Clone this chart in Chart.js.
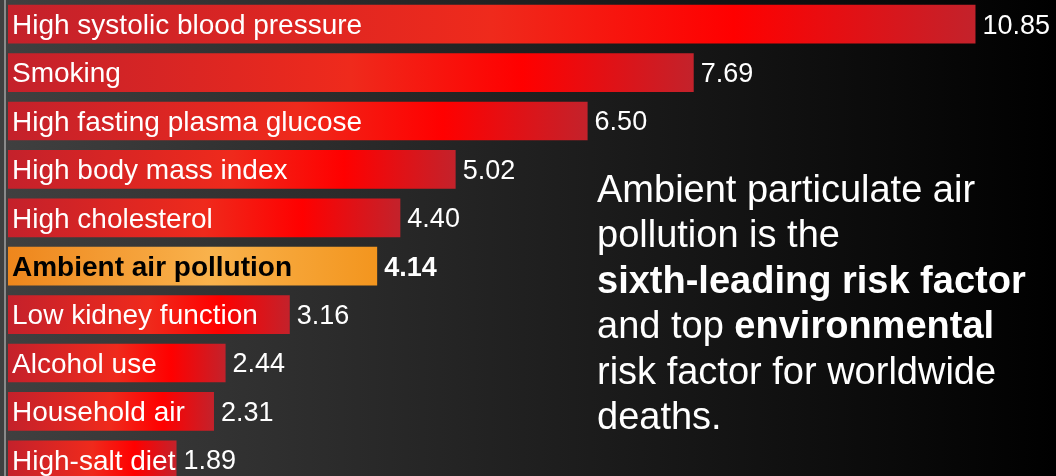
<!DOCTYPE html>
<html>
<head>
<meta charset="utf-8">
<script src="https://cdn.jsdelivr.net/npm/chart.js@4.4.1/dist/chart.umd.min.js"></script>
<style>
  html, body { margin: 0; padding: 0; background: #000; overflow: hidden; }
  #wrap { width: 1056px; height: 476px; overflow: hidden; }
  canvas { display: block; }
</style>
</head>
<body>
<div id="wrap"><canvas id="grafico" width="1056" height="484"></canvas></div>
<script>
const riskFactors = [
  'High systolic blood pressure',
  'Smoking',
  'High fasting plasma glucose',
  'High body mass index',
  'High cholesterol',
  'Ambient air pollution',
  'Low kidney function',
  'Alcohol use',
  'Household air',
  'High-salt diet'
];
const deaths = [10.85, 7.69, 6.50, 5.02, 4.40, 4.14, 3.16, 2.44, 2.31, 1.89];
const highlighted = 'Ambient air pollution';

const noteLines = [
  [['Ambient particulate air', false]],
  [['pollution is the', false]],
  [['sixth-leading risk factor', true]],
  [['and top ', false], ['environmental', true]],
  [['risk factor for worldwide', false]],
  [['deaths.', false]]
];

const fonte = '"Liberation Sans", Arial, sans-serif';

function barGradient(context) {
  const chart = context.chart;
  const i = context.dataIndex;
  const isHighlight = riskFactors[i] === highlighted;
  if (!chart.chartArea || !chart.scales.x) return isHighlight ? '#f39a2a' : '#e8201e';
  const x0 = chart.scales.x.getPixelForValue(0);
  const x1 = chart.scales.x.getPixelForValue(deaths[i]);
  const g = chart.ctx.createLinearGradient(x0, 0, x1, 0);
  if (isHighlight) {
    g.addColorStop(0, '#ee861c');
    g.addColorStop(0.55, '#f9b24c');
    g.addColorStop(1, '#f3951e');
  } else {
    g.addColorStop(0, '#c4212b');
    g.addColorStop(0.5, '#ef2a1c');
    g.addColorStop(0.75, '#ff0000');
    g.addColorStop(1, '#c3222b');
  }
  return g;
}

const fundo = {
  id: 'fundo',
  beforeDraw(chart) {
    const { ctx, width, height } = chart;
    const g = ctx.createLinearGradient(0, 0, width, 0);
    g.addColorStop(0, '#404040');
    g.addColorStop(0.4, '#262626');
    g.addColorStop(0.75, '#101010');
    g.addColorStop(1, '#000000');
    ctx.save();
    ctx.fillStyle = g;
    ctx.fillRect(0, 0, width, height);
    ctx.fillStyle = '#8a8a8a';
    ctx.fillRect(4, 0, 2, height);
    ctx.restore();
  }
};

const rotulos = {
  id: 'rotulos',
  afterDatasetsDraw(chart) {
    const { ctx } = chart;
    const meta = chart.getDatasetMeta(0);
    ctx.save();
    ctx.textBaseline = 'middle';
    meta.data.forEach((bar, i) => {
      const isHighlight = riskFactors[i] === highlighted;
      ctx.font = (isHighlight ? 'bold ' : '') + '28px ' + fonte;
      ctx.fillStyle = isHighlight ? '#000' : '#fff';
      ctx.textAlign = 'left';
      ctx.fillText(riskFactors[i], 12, bar.y + 2);
      ctx.font = (isHighlight ? 'bold ' : '') + '27px ' + fonte;
      ctx.fillStyle = '#fff';
      ctx.fillText(deaths[i].toFixed(2), bar.x + 7, bar.y + 2);
    });

    ctx.textBaseline = 'alphabetic';
    let y = 202;
    noteLines.forEach(parts => {
      let x = 597;
      parts.forEach(([texto, negrito]) => {
        ctx.font = (negrito ? 'bold ' : '') + '38px ' + fonte;
        ctx.fillText(texto, x, y);
        x += ctx.measureText(texto).width;
      });
      y += 45.4;
    });
    ctx.restore();
  }
};

new Chart(document.getElementById('grafico'), {
  type: 'bar',
  data: {
    labels: riskFactors,
    datasets: [{
      data: deaths,
      backgroundColor: barGradient,
      borderWidth: 0,
      barPercentage: 0.8,
      categoryPercentage: 1
    }]
  },
  options: {
    indexAxis: 'y',
    responsive: false,
    animation: false,
    layout: { padding: { left: 8, right: 0, top: 0, bottom: 0 } },
    scales: {
      x: { display: false, min: 0, max: 11.753 },
      y: { display: false }
    },
    plugins: {
      legend: { display: false },
      tooltip: { enabled: false }
    }
  },
  plugins: [fundo, rotulos]
});
</script>
</body>
</html>
